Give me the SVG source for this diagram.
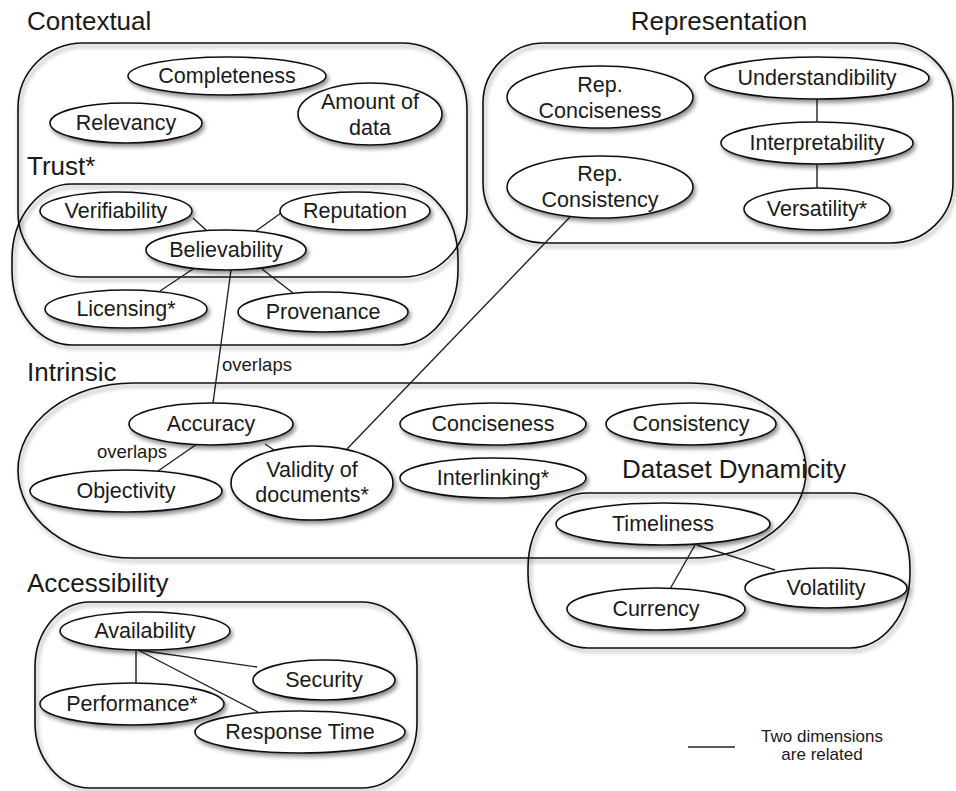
<svg xmlns="http://www.w3.org/2000/svg" width="956" height="791" viewBox="0 0 956 791">
<defs>
<filter id="sh" x="-20%" y="-20%" width="140%" height="140%">
<feDropShadow dx="2" dy="3" stdDeviation="2" flood-color="#000" flood-opacity="0.45"/>
</filter>
<style>
.box{fill:none;stroke:#111;stroke-width:1.6;filter:url(#sh)}
.nd{fill:#fff;stroke:#111;stroke-width:1.6;filter:url(#sh)}
.ln{stroke:#222;stroke-width:1.4;fill:none}
.t{font-family:"Liberation Sans",Arial,sans-serif;font-size:21.5px;fill:#1a1a1a;text-anchor:middle}
.ti{font-family:"Liberation Sans",Arial,sans-serif;font-size:26px;fill:#1a1a1a}
.sm{font-family:"Liberation Sans",Arial,sans-serif;font-size:17px;fill:#1a1a1a}
.ov{font-family:"Liberation Sans",Arial,sans-serif;font-size:18.5px;fill:#1a1a1a}
</style>
</defs>
<rect width="956" height="791" fill="#fff"/>

<g id="groups">
<g id="contextual"><rect class="box" x="18" y="43" width="449" height="234" rx="65" ry="65"/><text class="ti" x="27" y="30">Contextual</text></g>
<g id="trust"><rect class="box" x="12" y="184" width="446" height="161" rx="60" ry="75"/><text class="ti" x="27" y="175">Trust*</text></g>
<g id="representation"><rect class="box" x="483" y="43" width="470" height="200" rx="62" ry="60"/><text class="ti" x="719" y="30" text-anchor="middle">Representation</text></g>
<g id="intrinsic"><rect class="box" x="18" y="383" width="788" height="175" rx="115" ry="87"/><text class="ti" x="27" y="381">Intrinsic</text></g>
<g id="dynamicity"><rect class="box" x="528" y="493" width="382" height="155" rx="60" ry="75"/><text class="ti" x="622" y="478">Dataset Dynamicity</text></g>
<g id="accessibility"><rect class="box" x="35" y="602" width="382" height="186" rx="55" ry="65"/><text class="ti" x="27" y="592">Accessibility</text></g>
</g>

<g id="connectors">
<line class="ln" x1="193" y1="218" x2="207" y2="231"/>
<line class="ln" x1="281" y1="213" x2="256" y2="231"/>
<line class="ln" x1="193" y1="269" x2="160" y2="291"/>
<line class="ln" x1="262" y1="269" x2="293" y2="293"/>
<line class="ln" x1="231" y1="270" x2="213" y2="403"/>
<line class="ln" x1="570" y1="217" x2="347" y2="449"/>
<line class="ln" x1="817" y1="99" x2="817" y2="122"/>
<line class="ln" x1="817" y1="164" x2="817" y2="188"/>
<line class="ln" x1="197" y1="444" x2="158" y2="471"/>
<line class="ln" x1="265" y1="444" x2="274" y2="450"/>
<line class="ln" x1="695" y1="545" x2="670" y2="589"/>
<line class="ln" x1="697" y1="545" x2="775" y2="570"/>
<line class="ln" x1="136" y1="650" x2="136" y2="683"/>
<line class="ln" x1="138" y1="650" x2="257" y2="667"/>
<line class="ln" x1="138" y1="650" x2="258" y2="712"/>
<text class="ov" x="222" y="371">overlaps</text>
<text class="ov" x="97" y="458">overlaps</text>
</g>

<g id="n-completeness"><ellipse class="nd" cx="227" cy="76" rx="99" ry="19"/><text class="t" x="227" y="83">Completeness</text></g>
<g id="n-amount"><ellipse class="nd" cx="370" cy="114" rx="72" ry="31"/><text class="t" x="370" y="109">Amount of</text><text class="t" x="370" y="135">data</text></g>
<g id="n-relevancy"><ellipse class="nd" cx="126" cy="123" rx="76" ry="20"/><text class="t" x="126" y="130">Relevancy</text></g>
<g id="n-verifiability"><ellipse class="nd" cx="116" cy="211" rx="76" ry="19"/><text class="t" x="116" y="218">Verifiability</text></g>
<g id="n-reputation"><ellipse class="nd" cx="355" cy="211" rx="75" ry="19"/><text class="t" x="355" y="218">Reputation</text></g>
<g id="n-believability"><ellipse class="nd" cx="226" cy="250" rx="80" ry="20"/><text class="t" x="226" y="257">Believability</text></g>
<g id="n-licensing"><ellipse class="nd" cx="126" cy="309" rx="81" ry="19"/><text class="t" x="126" y="316">Licensing*</text></g>
<g id="n-provenance"><ellipse class="nd" cx="323" cy="312" rx="85" ry="20"/><text class="t" x="323" y="319">Provenance</text></g>

<g id="n-repconciseness"><ellipse class="nd" cx="600" cy="97" rx="93" ry="31"/><text class="t" x="600" y="92">Rep.</text><text class="t" x="600" y="118">Conciseness</text></g>
<g id="n-repconsistency"><ellipse class="nd" cx="600" cy="187" rx="93" ry="31"/><text class="t" x="600" y="181">Rep.</text><text class="t" x="600" y="207">Consistency</text></g>
<g id="n-understandibility"><ellipse class="nd" cx="817" cy="78" rx="112" ry="21"/><text class="t" x="817" y="85">Understandibility</text></g>
<g id="n-interpretability"><ellipse class="nd" cx="817" cy="143" rx="96" ry="21"/><text class="t" x="817" y="150">Interpretability</text></g>
<g id="n-versatility"><ellipse class="nd" cx="817" cy="209" rx="73" ry="21"/><text class="t" x="817" y="216">Versatility*</text></g>

<g id="n-accuracy"><ellipse class="nd" cx="211" cy="424" rx="82" ry="21"/><text class="t" x="211" y="431">Accuracy</text></g>
<g id="n-objectivity"><ellipse class="nd" cx="126" cy="491" rx="96" ry="21"/><text class="t" x="126" y="498">Objectivity</text></g>
<g id="n-validity"><ellipse class="nd" cx="312" cy="483" rx="81" ry="37"/><text class="t" x="312" y="477">Validity of</text><text class="t" x="312" y="502">documents*</text></g>
<g id="n-conciseness"><ellipse class="nd" cx="493" cy="424" rx="93" ry="21"/><text class="t" x="493" y="431">Conciseness</text></g>
<g id="n-interlinking"><ellipse class="nd" cx="493" cy="478" rx="93" ry="20"/><text class="t" x="493" y="485">Interlinking*</text></g>
<g id="n-consistency"><ellipse class="nd" cx="691" cy="424" rx="85" ry="21"/><text class="t" x="691" y="431">Consistency</text></g>

<g id="n-timeliness"><ellipse class="nd" cx="663" cy="524" rx="107" ry="21"/><text class="t" x="663" y="531">Timeliness</text></g>
<g id="n-volatility"><ellipse class="nd" cx="826" cy="588" rx="81" ry="20"/><text class="t" x="826" y="595">Volatility</text></g>
<g id="n-currency"><ellipse class="nd" cx="656" cy="609" rx="89" ry="21"/><text class="t" x="656" y="616">Currency</text></g>

<g id="n-availability"><ellipse class="nd" cx="145" cy="631" rx="85" ry="19"/><text class="t" x="145" y="638">Availability</text></g>
<g id="n-security"><ellipse class="nd" cx="324" cy="680" rx="71" ry="20"/><text class="t" x="324" y="687">Security</text></g>
<g id="n-performance"><ellipse class="nd" cx="132" cy="704" rx="92" ry="21"/><text class="t" x="132" y="711">Performance*</text></g>
<g id="n-responsetime"><ellipse class="nd" cx="300" cy="732" rx="105" ry="21"/><text class="t" x="300" y="739">Response Time</text></g>

<g id="legend">
<line class="ln" x1="688" y1="747" x2="735" y2="747"/>
<text class="sm" x="822" y="742" text-anchor="middle">Two dimensions</text>
<text class="sm" x="822" y="760" text-anchor="middle">are related</text>
</g>
</svg>
